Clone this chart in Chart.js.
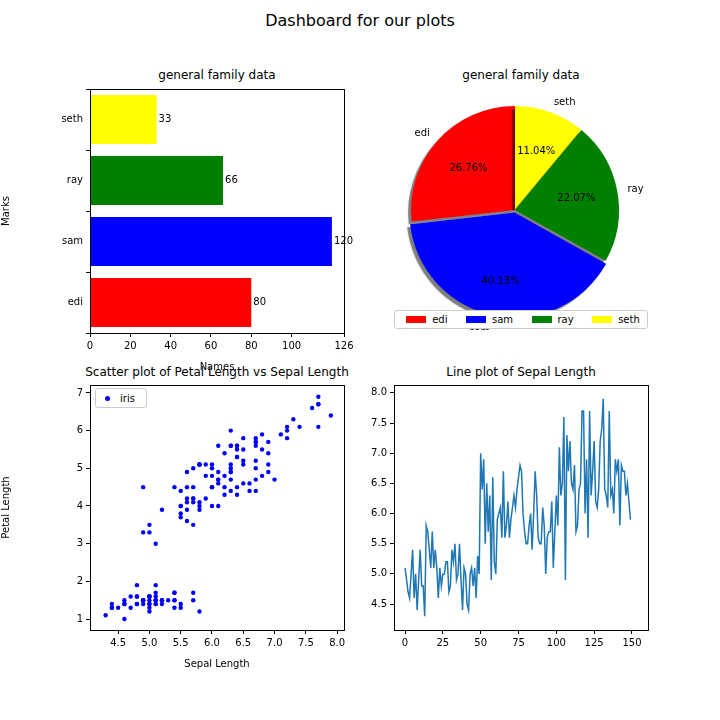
<!DOCTYPE html>
<html><head><meta charset="utf-8">
<script src="https://cdn.jsdelivr.net/npm/chart.js@4"></script>
<style>
body{margin:0;width:720px;height:720px;background:#fff;position:relative;font-family:"DejaVu Sans",sans-serif;overflow:hidden}
canvas{position:absolute}
.t{position:absolute;text-align:center;color:#000}
.lg{position:absolute;border:1px solid #ccc;border-radius:3px;font-size:10px;background:#fff;display:flex;align-items:center}
.sw{display:inline-block;width:20px;height:7px;margin:0 6px 0 4px}
</style></head><body>
<div class="t" style="left:0;width:720px;top:11px;font-size:16px">Dashboard for our plots</div>
<div class="t" style="left:90px;width:254px;top:68px;font-size:12px">general family data</div>
<div class="t" style="left:394px;width:254px;top:68px;font-size:12px">general family data</div>
<div class="t" style="left:60px;width:314px;top:365px;font-size:12px">Scatter plot of Petal Length vs Sepal Length</div>
<div class="t" style="left:394px;width:254px;top:365px;font-size:12px">Line plot of Sepal Length</div>
<canvas id="c1" style="left:0;top:80px" width="360" height="293"></canvas>
<canvas id="c2" style="left:370px;top:90px" width="290" height="240"></canvas>
<canvas id="c3" style="left:0;top:376px" width="360" height="294"></canvas>
<canvas id="c4" style="left:344px;top:376px" width="320" height="294"></canvas>
<div class="lg" id="pl" style="left:394px;top:310px;width:252px;height:17px;justify-content:space-around"></div>
<div class="lg" style="left:95px;top:388px;width:50px;height:18px"><span style="display:inline-block;width:5px;height:5px;border-radius:50%;background:#00f;margin:0 10px 0 9px"></span>iris</div>
<script>
const names=["edi","sam","ray","seth"];
const marks=[80,120,66,33];
const colors=["red","blue","green","yellow"];
const sepalLength=[5.1,4.9,4.7,4.6,5.0,5.4,4.6,5.0,4.4,4.9,5.4,4.8,4.8,4.3,5.8,5.7,5.4,5.1,5.7,5.1,5.4,5.1,4.6,5.1,4.8,5.0,5.0,5.2,5.2,4.7,4.8,5.4,5.2,5.5,4.9,5.0,5.5,4.9,4.4,5.1,5.0,4.5,4.4,5.0,5.1,4.8,5.1,4.6,5.3,5.0,
7.0,6.4,6.9,5.5,6.5,5.7,6.3,4.9,6.6,5.2,5.0,5.9,6.0,6.1,5.6,6.7,5.6,5.8,6.2,5.6,5.9,6.1,6.3,6.1,6.4,6.6,6.8,6.7,6.0,5.7,5.5,5.5,5.8,6.0,5.4,6.0,6.7,6.3,5.6,5.5,5.5,6.1,5.8,5.0,5.6,5.7,5.7,6.2,5.1,5.7,
6.3,5.8,7.1,6.3,6.5,7.6,4.9,7.3,6.7,7.2,6.5,6.4,6.8,5.7,5.8,6.4,6.5,7.7,7.7,6.0,6.9,5.6,7.7,6.3,6.7,7.2,6.2,6.1,6.4,7.2,7.4,7.9,6.4,6.3,6.1,7.7,6.3,6.4,6.0,6.9,6.7,6.9,5.8,6.8,6.7,6.7,6.3,6.5,6.2,5.9];
const petalLength=[1.4,1.4,1.3,1.5,1.4,1.7,1.4,1.5,1.4,1.5,1.5,1.6,1.4,1.1,1.2,1.5,1.3,1.4,1.7,1.5,1.7,1.5,1.0,1.7,1.9,1.6,1.6,1.5,1.4,1.6,1.6,1.5,1.5,1.4,1.5,1.2,1.3,1.5,1.3,1.5,1.3,1.3,1.3,1.6,1.9,1.4,1.6,1.4,1.5,1.4,
4.7,4.5,4.9,4.0,4.6,4.5,4.7,3.3,4.6,3.9,3.5,4.2,4.0,4.7,3.6,4.4,4.5,4.1,4.5,3.9,4.8,4.0,4.9,4.7,4.3,4.4,4.8,5.0,4.5,3.5,3.8,3.7,3.9,5.1,4.5,4.5,4.7,4.4,4.1,4.0,4.4,4.6,4.0,3.3,4.2,4.2,4.2,4.3,3.0,4.1,
6.0,5.1,5.9,5.6,5.8,6.6,4.5,6.3,5.8,6.1,5.1,5.3,5.5,5.0,5.1,5.3,5.5,6.7,6.9,5.0,5.7,4.9,6.7,4.9,5.7,6.0,4.8,4.9,5.6,5.8,6.1,6.4,5.6,5.1,5.6,6.1,5.6,5.5,4.8,5.4,5.6,5.1,5.1,5.9,5.7,5.2,5.0,5.2,5.4,5.1];

Chart.defaults.font.family='"DejaVu Sans",sans-serif';
Chart.defaults.font.size=10;
Chart.defaults.color='#000';
Chart.defaults.animation=false;
Chart.defaults.plugins.legend.display=false;
Chart.defaults.plugins.tooltip.enabled=false;

const box={id:'box',afterDraw(c){const a=c.chartArea,x=c.ctx;x.save();x.strokeStyle='#000';x.lineWidth=1;x.strokeRect(Math.round(a.left)+0.5,Math.round(a.top)+0.5,Math.round(a.right-a.left),Math.round(a.bottom-a.top));x.restore();}};
const fix=(w)=>function(s){if(s.isHorizontal())s.height=w;else s.width=w;};
const ax=(o)=>Object.assign({grid:{drawOnChartArea:false,drawTicks:true,tickLength:4,color:'#000'},border:{display:true,color:'#000'},ticks:{padding:3,color:'#000'}},o);

// bar
new Chart(document.getElementById('c1'),{type:'bar',
 data:{labels:names,datasets:[{data:marks,backgroundColor:colors,barPercentage:0.8,categoryPercentage:1}]},
 options:{indexAxis:'y',responsive:false,layout:{padding:{top:6,right:16}},
  scales:{x:ax({min:0,max:126,ticks:{stepSize:20,padding:3,color:'#000'},title:{display:true,text:'Names',padding:0},afterFit:fix(40)}),
          y:ax({reverse:true,title:{display:true,text:'Marks',padding:0},afterFit:fix(90)})}},
 plugins:[box,{id:'vl',afterDatasetsDraw(c){const x=c.ctx;x.save();x.font='10px "DejaVu Sans"';x.fillStyle='#000';x.textBaseline='middle';
  c.getDatasetMeta(0).data.forEach((b,i)=>x.fillText(String(marks[i]),b.x+2,b.y));x.restore();}}]});

// pie (matplotlib goes counter-clockwise; reorder for clockwise drawing)
const order=[0,3,2,1];
const total=marks.reduce((a,b)=>a+b,0);
const explode=[0,10,0,0];
new Chart(document.getElementById('c2'),{type:'pie',
 data:{labels:order.map(i=>names[i]),datasets:[{data:order.map(i=>marks[i]),backgroundColor:order.map(i=>colors[i]),offset:order.map(i=>explode[i]),borderWidth:0}]},
 options:{responsive:false,radius:104,rotation:-marks[0]/total*360,layout:{padding:0}},
 plugins:[{id:'sh',beforeDatasetsDraw(c){const x=c.ctx;x.save();x.shadowColor='rgba(0,0,0,0.5)';x.shadowOffsetX=-3;x.shadowOffsetY=3;x.shadowBlur=1;},
  afterDatasetsDraw(c){const x=c.ctx;x.restore();x.save();x.font='10px "DejaVu Sans"';x.fillStyle='#000';x.textAlign='center';x.textBaseline='middle';
  c.getDatasetMeta(0).data.forEach((a,k)=>{const i=order[k];const m=(a.startAngle+a.endAngle)/2;const r=a.outerRadius;
   const cx=a.x+Math.cos(m)*a.options.offset,cy=a.y+Math.sin(m)*a.options.offset;
   x.fillText((marks[i]/total*100).toFixed(2)+'%',cx+Math.cos(m)*r*0.6,cy+Math.sin(m)*r*0.6);
   const lx=cx+Math.cos(m)*r*1.1,ly=cy+Math.sin(m)*r*1.1;x.textAlign=Math.cos(m)>0?'left':'right';x.fillText(names[i],lx,ly);x.textAlign='center';});
  x.restore();}}]});
document.getElementById('pl').innerHTML=names.map((n,i)=>`<span><span class="sw" style="background:${colors[i]}"></span>${n}</span>`).join('');

// scatter
new Chart(document.getElementById('c3'),{type:'scatter',
 data:{datasets:[{data:sepalLength.map((v,i)=>({x:v,y:petalLength[i]})),backgroundColor:'#00f',borderWidth:0,pointRadius:2.2}]},
 options:{responsive:false,layout:{padding:{top:6,right:16}},
  scales:{x:ax({min:4.05,max:8.11,afterBuildTicks(s){s.ticks=[4.5,5,5.5,6,6.5,7,7.5,8].map(v=>({value:v}));},ticks:{callback:v=>v.toFixed(1),padding:3,color:'#000'},title:{display:true,text:'Sepal Length',padding:0},afterFit:fix(40)}),
          y:ax({min:0.71,max:7.21,afterBuildTicks(s){s.ticks=[1,2,3,4,5,6,7].map(v=>({value:v}));},title:{display:true,text:'Petal Length',padding:0},afterFit:fix(90)})}},
 plugins:[box]});

// line
new Chart(document.getElementById('c4'),{type:'scatter',
 data:{datasets:[{data:sepalLength.map((v,i)=>({x:i,y:v})),showLine:true,borderColor:'#1f77b4',borderWidth:1.5,pointRadius:0}]},
 options:{responsive:false,layout:{padding:{top:6,right:16}},
  scales:{x:ax({min:-7.3,max:160.6,afterBuildTicks(s){s.ticks=[0,25,50,75,100,125,150].map(v=>({value:v}));},afterFit:fix(40)}),
          y:ax({min:4.07,max:8.13,afterBuildTicks(s){s.ticks=[4.5,5,5.5,6,6.5,7,7.5,8].map(v=>({value:v}));},ticks:{callback:v=>v.toFixed(1),padding:3,color:'#000'},afterFit:fix(50)})}},
 plugins:[box]});
</script></body></html>
